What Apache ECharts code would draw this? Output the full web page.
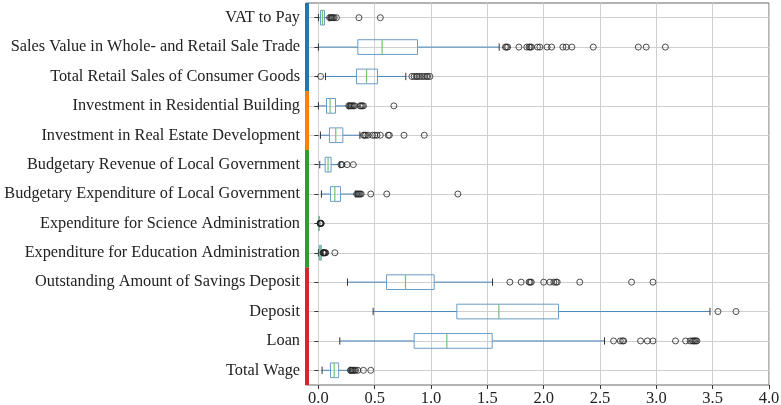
<!DOCTYPE html>
<html>
<head>
<meta charset="utf-8">
<script src="https://cdn.jsdelivr.net/npm/echarts@6/dist/echarts.min.js"></script>
<style>html,body{margin:0;padding:0;background:#fff;}#c{width:781px;height:405px;}</style>
</head>
<body>
<div id="c"></div>
<script>
const categories = [
  'VAT to Pay',
  'Sales Value in Whole- and Retail Sale Trade',
  'Total Retail Sales of Consumer Goods',
  'Investment in Residential Building',
  'Investment in Real Estate Development',
  'Budgetary Revenue of Local Government',
  'Budgetary Expenditure of Local Government',
  'Expenditure for Science Administration',
  'Expenditure for Education Administration',
  'Outstanding Amount of Savings Deposit',
  'Deposit',
  'Loan',
  'Total Wage'
];
// [whisker low, Q1, median, Q3, whisker high]
const boxStats = [
  [0.0, 0.019, 0.036, 0.054, 0.095],
  [0.0, 0.35, 0.566, 0.88, 1.605],
  [0.063, 0.338, 0.427, 0.525, 0.776],
  [0.0, 0.072, 0.104, 0.152, 0.264],
  [0.018, 0.098, 0.154, 0.217, 0.368],
  [0.012, 0.06, 0.086, 0.113, 0.19],
  [0.027, 0.107, 0.146, 0.196, 0.332],
  [0.0, 0.002, 0.004, 0.007, 0.013],
  [0.0, 0.008, 0.016, 0.026, 0.04],
  [0.258, 0.605, 0.773, 1.028, 1.546],
  [0.486, 1.229, 1.602, 2.132, 3.476],
  [0.19, 0.85, 1.14, 1.543, 2.54],
  [0.033, 0.107, 0.14, 0.18, 0.28]
];
const outliers = [
  [0.10, 0.11, 0.12, 0.13, 0.14, 0.16, 0.36, 0.55],
  [1.66, 1.67, 1.68, 1.78, 1.85, 1.87, 1.88, 1.89, 1.945, 1.966, 2.03, 2.07, 2.17, 2.2, 2.25, 2.44, 2.84, 2.91, 3.08],
  [0.02, 0.83, 0.85, 0.87, 0.88, 0.9, 0.92, 0.94, 0.96, 0.97, 0.99],
  [0.27, 0.28, 0.29, 0.3, 0.31, 0.32, 0.37, 0.38, 0.39, 0.4, 0.67],
  [0.40, 0.41, 0.42, 0.44, 0.48, 0.5, 0.52, 0.55, 0.62, 0.63, 0.76, 0.94],
  [0.2, 0.21, 0.255, 0.31],
  [0.34, 0.35, 0.36, 0.37, 0.38, 0.465, 0.607, 1.238],
  [0.015, 0.017, 0.019, 0.021, 0.023, 0.025],
  [0.042, 0.045, 0.05, 0.055, 0.06, 0.065, 0.146],
  [1.70, 1.80, 1.87, 1.88, 1.89, 2.0, 2.055, 2.09, 2.11, 2.12, 2.32, 2.78, 2.97],
  [3.547, 3.707],
  [2.62, 2.68, 2.70, 2.71, 2.86, 2.92, 2.97, 3.17, 3.26, 3.30, 3.32, 3.33, 3.34, 3.35, 3.36],
  [0.285, 0.29, 0.30, 0.31, 0.32, 0.33, 0.35, 0.40, 0.465]
];
// groups: [first category index, last category index]
const groupRanges = [[0, 2], [3, 4], [5, 8], [9, 12]];
const groupColors = ['#1f77b4', '#ff7f0e', '#2ca02c', '#d62728'];
const xTicks = [0, 0.5, 1, 1.5, 2, 2.5, 3, 3.5, 4];
const xMin = -0.11, xMax = 4.0;

const FONT = 'Liberation Serif';

const boxData = boxStats.map((s, i) => [i].concat(s));
const outlierData = [];
outliers.forEach((arr, i) => arr.forEach(v => outlierData.push([v, i])));
const groupData = groupRanges.map((r, g) => [r[0], r[1], g]);

function renderBox(params, api) {
  const i = api.value(0);
  const lo = api.coord([api.value(1), i]);
  const q1 = api.coord([api.value(2), i]);
  const med = api.coord([api.value(3), i]);
  const q3 = api.coord([api.value(4), i]);
  const hi = api.coord([api.value(5), i]);
  const band = api.size([0, 1])[1];
  const bh = band * 0.5;
  const ch = bh * 0.5;
  const y = lo[1];
  const wStyle = { stroke: '#4d87bb', lineWidth: 1 };
  return {
    type: 'group',
    children: [
      { type: 'line', shape: { x1: lo[0], y1: y, x2: q1[0], y2: y }, style: wStyle },
      { type: 'line', shape: { x1: q3[0], y1: y, x2: hi[0], y2: y }, style: wStyle },
      { type: 'line', shape: { x1: lo[0], y1: y - ch / 2, x2: lo[0], y2: y + ch / 2 }, style: { stroke: '#333', lineWidth: 1 } },
      { type: 'line', shape: { x1: hi[0], y1: y - ch / 2, x2: hi[0], y2: y + ch / 2 }, style: { stroke: '#333', lineWidth: 1 } },
      { type: 'rect', shape: { x: q1[0], y: y - bh / 2, width: q3[0] - q1[0], height: bh }, style: { fill: 'none', stroke: '#6a9cc8', lineWidth: 1 } },
      { type: 'line', shape: { x1: med[0], y1: y - bh / 2, x2: med[0], y2: y + bh / 2 }, style: { stroke: '#74c374', lineWidth: 1.2 } }
    ]
  };
}

function renderGroup(params, api) {
  const a = api.value(0), b = api.value(1), g = api.value(2);
  const band = api.size([0, 1])[1];
  const p1 = api.coord([xMin, a]);
  const p2 = api.coord([xMin, b]);
  const top = Math.min(p1[1], p2[1]) - band / 2;
  const bot = Math.max(p1[1], p2[1]) + band / 2;
  return {
    type: 'rect',
    shape: { x: params.coordSys.x - 1, y: top, width: 4, height: bot - top },
    style: { fill: groupColors[g] }
  };
}

const chart = echarts.init(document.getElementById('c'), null, { renderer: 'canvas' });
chart.setOption({
  backgroundColor: '#fff',
  animation: false,
  grid: { left: 306, right: 12, top: 3, bottom: 20, show: true, borderColor: '#666', borderWidth: 1, backgroundColor: 'transparent', containLabel: false, outerBoundsMode: 'none' },
  xAxis: {
    type: 'value', min: xMin, max: xMax,
    axisLine: { show: false },
    axisTick: { show: true, length: 4, lineStyle: { color: '#333' }, customValues: xTicks },
    axisLabel: { customValues: xTicks, formatter: v => v.toFixed(1), fontFamily: FONT, fontSize: 16.5, color: '#222', margin: 5 },
    splitLine: { show: true, lineStyle: { color: '#cfcfcf', width: 1 } }
  },
  yAxis: {
    type: 'category', data: categories, inverse: true,
    axisLine: { show: false },
    axisTick: { show: true, alignWithLabel: true, length: 4, lineStyle: { color: '#333' } },
    axisLabel: { fontFamily: FONT, fontSize: 16.3, color: '#222', margin: 6 },
    splitLine: { show: true, alignWithLabel: true, lineStyle: { color: '#cfcfcf', width: 1 } }
  },
  series: [
    { type: 'custom', renderItem: renderBox, data: boxData, encode: { x: [1, 2, 3, 4, 5], y: 0 }, z: 3 },
    { type: 'scatter', data: outlierData, symbol: 'circle', symbolSize: 6,
      itemStyle: { color: 'rgba(255,255,255,0)', borderColor: '#222', borderWidth: 1 }, z: 4 },
    { type: 'custom', renderItem: renderGroup, data: groupData, encode: { y: [0, 1] }, z: 5, clip: false }
  ]
});
</script>
</body>
</html>
